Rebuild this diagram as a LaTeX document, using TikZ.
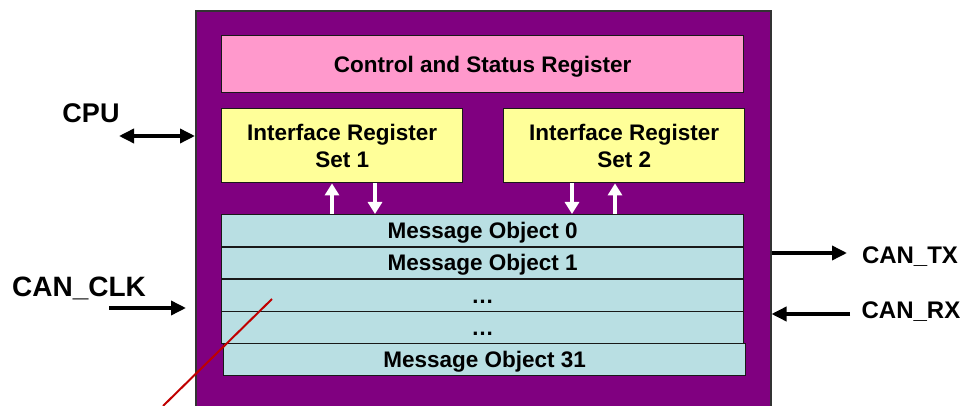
\documentclass[tikz,border=0pt]{standalone}
\usepackage{fontspec}
\setmainfont{Liberation Sans}
\usetikzlibrary{arrows.meta}

\definecolor{chippurple}{HTML}{800080}
\definecolor{regpink}{HTML}{FF99CC}
\definecolor{ifyellow}{HTML}{FFFF99}
\definecolor{moblue}{HTML}{B9DFE3}
\definecolor{penred}{HTML}{C00000}

\tikzset{
    chipbox/.style={draw=black!80, line width=1.5pt, fill=chippurple, inner sep=0pt},
    regbox/.style={draw=black!90, line width=1.4pt, inner sep=0pt, align=center,
        font=\fontsize{22.5}{27}\selectfont\bfseries},
    capcentre/.style={text height=16pt, text depth=0pt},
    mobox/.style={regbox, capcentre, fill=moblue, minimum width=522pt, minimum height=32.2pt},
    sig/.style={inner sep=0pt, anchor=base, font=\bfseries},
    busarrow/.style={line width=3.5pt, -{Triangle[length=15pt,width=14pt]}},
    datarrow/.style={white, line width=4pt, -{Triangle[length=12pt,width=14pt]}}
}

\begin{document}
\begin{tikzpicture}[x=1pt, y=-1pt]

    \useasboundingbox (0,0) rectangle (967,406);
    \clip (0,0) rectangle (967,406);

    \node[chipbox, anchor=north west, minimum width=575pt, minimum height=410pt] (can) at (195,10.5) {};

    \node[regbox, capcentre, fill=regpink, anchor=north west, minimum width=522pt, minimum height=57pt]
        (csr) at (221,35) {Control and Status Register};

    \node[regbox, fill=ifyellow, anchor=north west, minimum width=241pt, minimum height=74pt]
        (ifone) at (221,108) {Interface Register\\Set 1};
    \node[regbox, fill=ifyellow, anchor=north west, minimum width=241pt, minimum height=74pt]
        (iftwo) at (503,108) {Interface Register\\Set 2};

    \foreach \i/\txt/\dx in {0/Message Object 0/0, 1/Message Object 1/0, 2/…/0, 3/…/0, 4/Message Object 31/2}
    {
        \node[mobox, anchor=north west] (mo\i) at ({221+\dx},{214+32.2*\i}) {\txt};
    }

    % transfers between interface registers and message RAM
    \draw[datarrow] ([xshift=111pt]mo0.north west) -- ([xshift=111pt]ifone.south west);
    \draw[datarrow] ([xshift=154pt]ifone.south west) -- ([xshift=154pt]mo0.north west);
    \draw[datarrow] ([xshift=69pt]iftwo.south west) -- ([xshift=351pt]mo0.north west);
    \draw[datarrow] ([xshift=394pt]mo0.north west) -- ([xshift=112pt]iftwo.south west);

    % pins
    \node[sig, font=\fontsize{27}{30}\selectfont\bfseries] (cpu) at (91,123) {CPU};
    \node[sig, font=\fontsize{28}{30}\selectfont\bfseries] (clk) at (79,297) {CAN\_CLK};
    \node[sig, font=\fontsize{24}{28}\selectfont\bfseries] (tx) at (910,264) {CAN\_TX};
    \node[sig, font=\fontsize{24}{28}\selectfont\bfseries] (rx) at (911,318) {CAN\_RX};

    \coordinate (cpuend) at (119,136);
    \coordinate (clkstart) at (109,308);
    \coordinate (clkend) at (186,308);
    \coordinate (txend) at (847,253);
    \coordinate (rxstart) at (850,314);

    \draw[busarrow, {Triangle[length=15pt,width=14pt]}-{Triangle[length=15pt,width=14pt]}]
        (cpuend) -- (can.west |- cpuend);
    \draw[busarrow] (clkstart) -- (clkend);
    \draw[busarrow] (can.east |- txend) -- (txend);
    \draw[busarrow] (rxstart) -- (can.east |- rxstart);

    \draw[penred, line width=2pt] (163,406) -- (272,299);

\end{tikzpicture}
\end{document}
